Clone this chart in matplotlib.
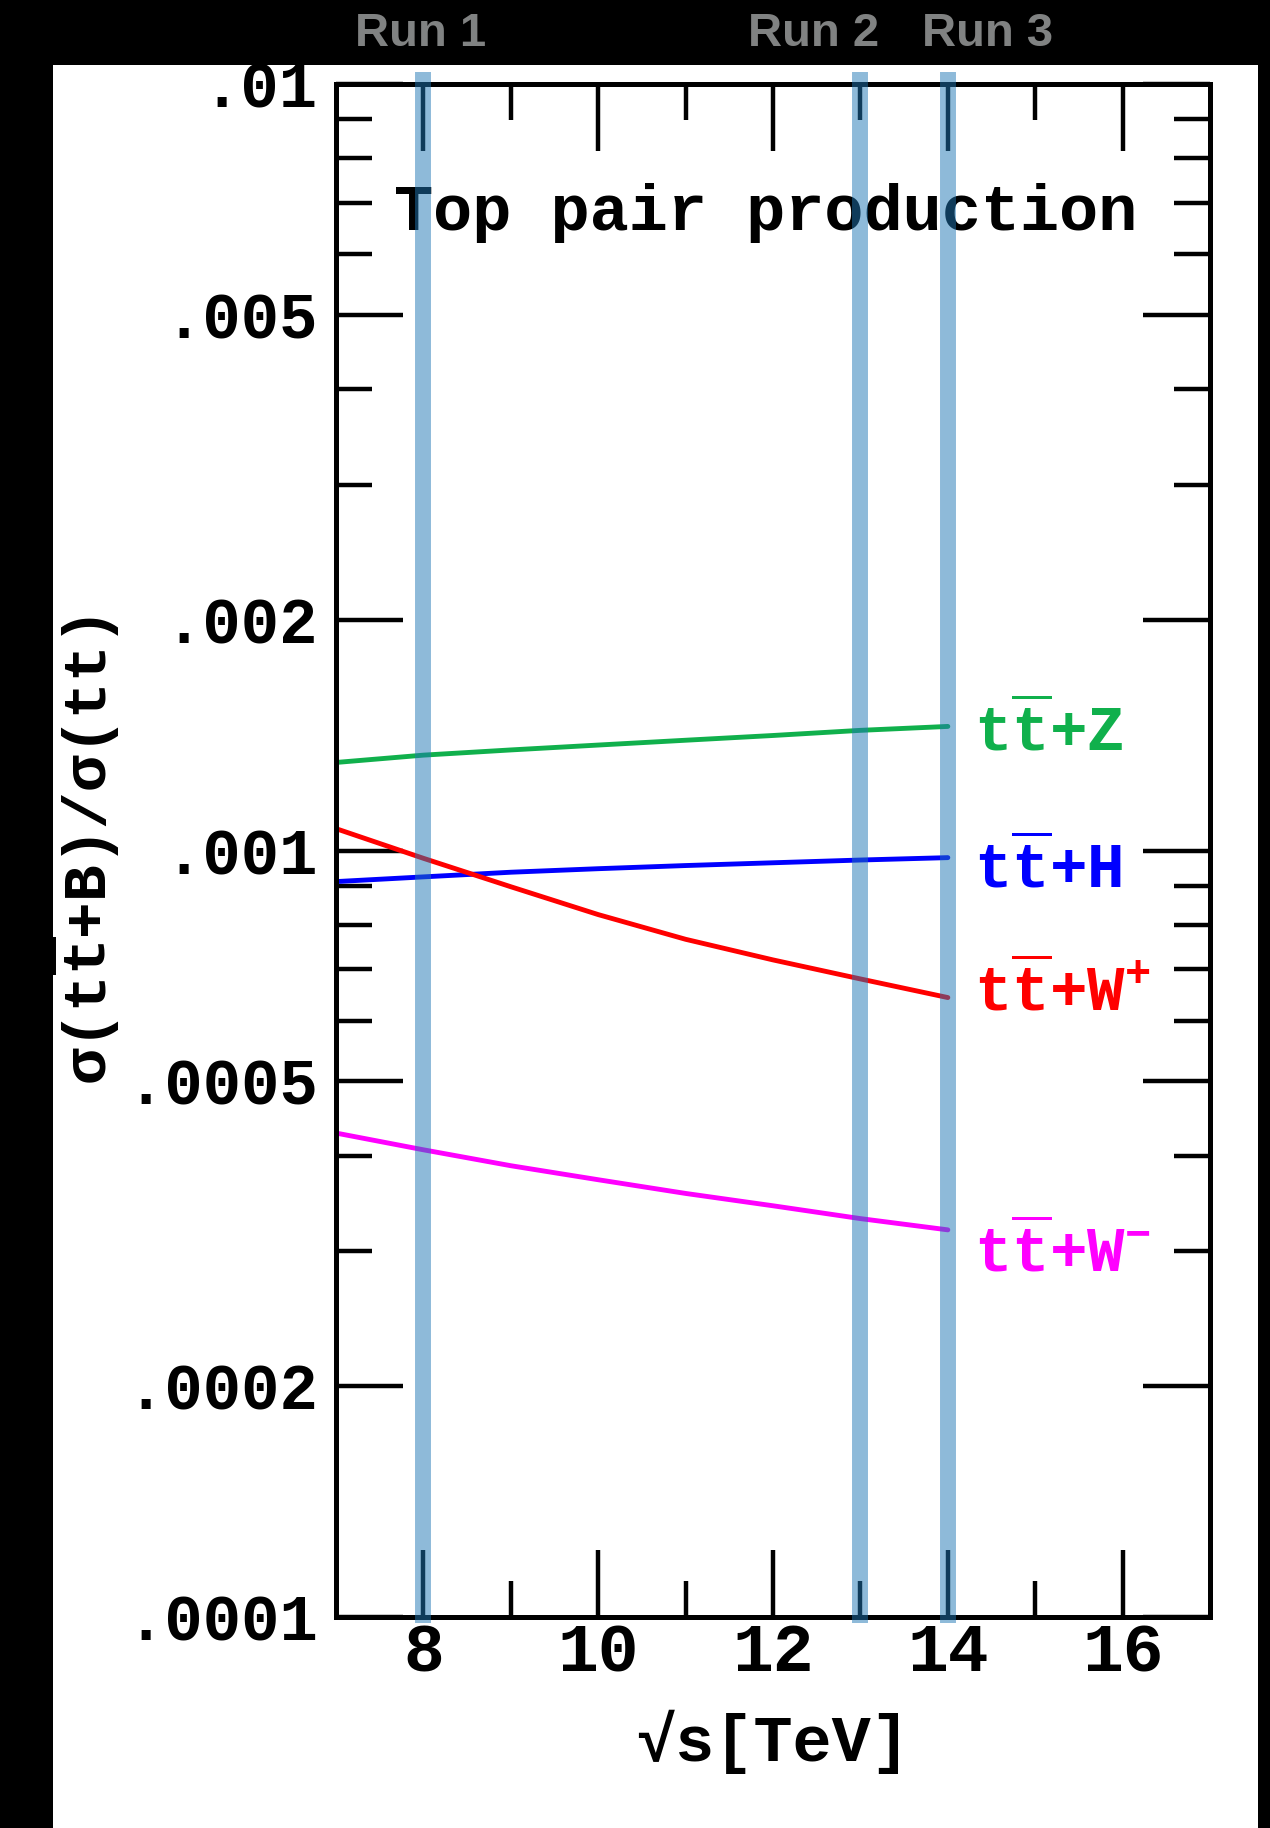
import matplotlib
matplotlib.use('Agg')
import matplotlib.pyplot as plt
import matplotlib.transforms as mtransforms
from matplotlib.patches import Rectangle
from matplotlib.ticker import FixedLocator, FixedFormatter, LogLocator, NullFormatter

plt.rcParams['font.family'] = ['Liberation Mono', 'DejaVu Sans Mono']
plt.rcParams['font.weight'] = 'bold'
plt.rcParams['axes.labelweight'] = 'bold'
plt.rcParams['mathtext.fontset'] = 'custom'
plt.rcParams['mathtext.rm'] = 'Liberation Mono:bold'
plt.rcParams['mathtext.bf'] = 'Liberation Mono:bold'
plt.rcParams['mathtext.it'] = 'Liberation Mono:bold'

# collision energy in TeV
energy = [7, 8, 9, 10, 11, 12, 13, 14]

# sigma(tt+B)/sigma(tt)
ratio_ttz = [1.303e-3, 1.332e-3, 1.353e-3, 1.373e-3, 1.393e-3, 1.413e-3, 1.435e-3, 1.452e-3]
ratio_tth = [9.11e-4, 9.24e-4, 9.37e-4, 9.47e-4, 9.56e-4, 9.64e-4, 9.72e-4, 9.79e-4]
ratio_ttwp = [1.068e-3, 9.77e-4, 8.97e-4, 8.25e-4, 7.66e-4, 7.20e-4, 6.80e-4, 6.43e-4]
ratio_ttwm = [4.28e-4, 4.07e-4, 3.88e-4, 3.72e-4, 3.57e-4, 3.44e-4, 3.31e-4, 3.20e-4]

curve_names = [r't$\overline{\mathbf{t}}$+Z', r't$\overline{\mathbf{t}}$+H',
               r't$\overline{\mathbf{t}}$+W$^{\mathbf{+}}$', r't$\overline{\mathbf{t}}$+W$^{\mathbf{-}}$']
curve_colors = ['#10b04c', '#0000ff', '#ff0000', '#ff00ff']

run_energy = [8, 13, 14]
run_names = ['Run 1', 'Run 2', 'Run 3']

xticks = [8, 10, 12, 14, 16]
xticks_minor = [9, 11, 13, 15]
yticks = [1e-4, 2e-4, 5e-4, 1e-3, 2e-3, 5e-3, 1e-2]
ytick_labels = ['.0001', '.0002', '.0005', '.001', '.002', '.005', '.01']

fig = plt.figure(figsize=(12.7, 18.28), dpi=100, facecolor='black')
# white page on black background
fig.add_artist(Rectangle((0.0417, 0.0), 0.9488, 0.9644, transform=fig.transFigure,
                         facecolor='white', edgecolor='none', zorder=-1))

ax = fig.add_axes([0.2646, 0.1154, 0.6882, 0.8386])
ax.set_yscale('log')
ax.set_xlim(7, 17)
ax.set_ylim(1e-4, 1e-2)

series = [ratio_ttz, ratio_tth, ratio_ttwp, ratio_ttwm]
label_dy = [-18, -22, -9.6, -30.5]  # label baseline offsets in points
for vals, name, col, dy in zip(series, curve_names, curve_colors, label_dy):
    ax.plot(energy, vals, color=col, lw=3.5, solid_capstyle='round', zorder=2)
    ax.annotate(name, xy=(energy[-1], vals[-1]), xytext=(19, dy), textcoords='offset points',
                color=col, fontsize=45, ha='left', va='baseline', annotation_clip=False)

# run energies
for e in run_energy:
    ax.axvline(e, ymin=-0.004, ymax=1.008, color='#1f77b4', alpha=0.5, lw=11.5,
               solid_capstyle='butt', clip_on=False, zorder=5)

trans = mtransforms.blended_transform_factory(ax.transData, fig.transFigure)
run_shift = [-0.03, -0.54, 0.46]
for e, name, s in zip(run_energy, run_names, run_shift):
    ax.text(e + s, 0.9813, name, transform=trans, ha='center', va='center',
            fontsize=34, family='Liberation Sans', weight='bold', color='#808282')

ax.text(0.492, 0.9048, 'Top pair production', transform=ax.transAxes,
        ha='center', va='baseline', fontsize=47)

ax.xaxis.set_major_locator(FixedLocator(xticks))
ax.xaxis.set_minor_locator(FixedLocator(xticks_minor))
ax.yaxis.set_major_locator(FixedLocator(yticks))
ax.yaxis.set_major_formatter(FixedFormatter(ytick_labels))
ax.yaxis.set_minor_locator(LogLocator(base=10, subs=(3, 4, 6, 7, 8, 9), numticks=20))
ax.yaxis.set_minor_formatter(NullFormatter())

ax.tick_params(which='both', direction='in', top=True, right=True, width=3.2, color='black')
ax.tick_params(which='major', length=48)
ax.tick_params(which='minor', length=26)
ax.tick_params(axis='x', labelsize=49, pad=3)
ax.tick_params(axis='y', labelsize=46, pad=13)
for sp in ax.spines.values():
    sp.set_linewidth(3.6)

ax.set_xlabel('√s[TeV]', fontsize=47, fontweight='bold')
ax.xaxis.set_label_coords(0.5, -0.0607)
ax.set_ylabel(r'σ(t$\overline{\mathbf{t}}$+B)/σ(tt)', fontsize=44, fontweight='bold')
ax.yaxis.set_label_coords(-0.245, 0.5)

fig.savefig('out.png', dpi=100, facecolor='black')
